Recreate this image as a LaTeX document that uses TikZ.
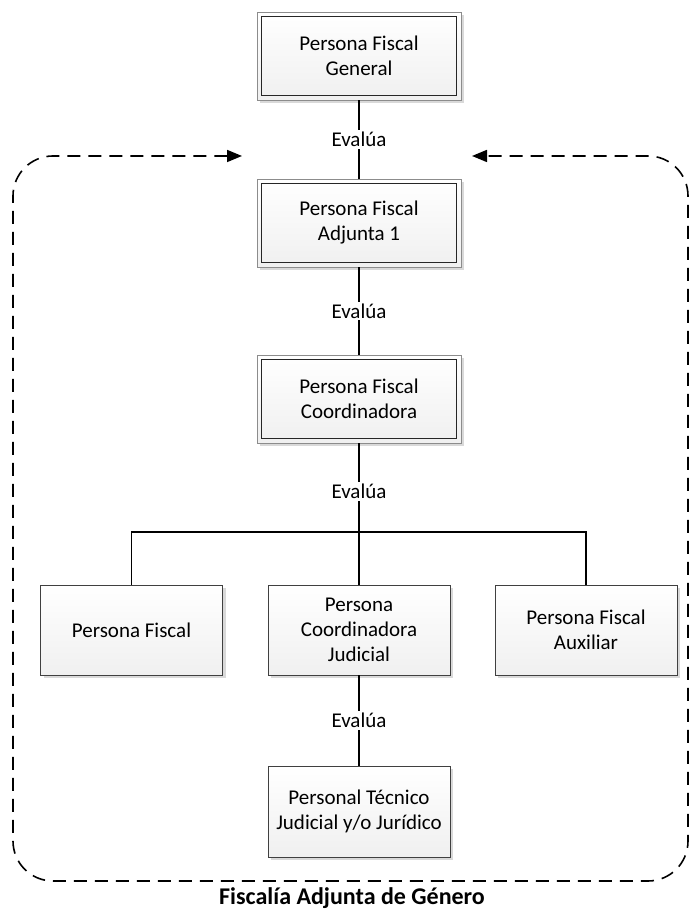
\documentclass[tikz,border=0pt]{standalone}
\usepackage{fontspec}
\setmainfont{Carlito}
\usetikzlibrary{arrows.meta,shadows}

\begin{document}
\begin{tikzpicture}[x=1pt,y=1pt,font=\fontsize{21}{25}\selectfont]
\tikzstyle conn=[line width=1.3pt,black]
\tikzstyle cargo=[draw=black!75,line width=0.9pt,top color=white,bottom color=black!6,
  drop shadow={shadow xshift=3pt,shadow yshift=-3pt,fill=black!15,opacity=1},
  minimum width=182pt,minimum height=90pt,inner sep=2pt,align=center]
\tikzstyle jefe=[cargo,draw=black!45,minimum width=204pt,minimum height=88pt]
\tikzstyle evalua=[fill=white,inner sep=2pt]
\tikzstyle marco=[line width=1.6pt,dash pattern=on 13pt off 8pt,rounded corners=40pt]
 \useasboundingbox (0,0) rectangle (691,909);
 % cadena principal
 \node[jefe] (pfg) at (359,853) {Persona Fiscal\\General};
 \node[jefe] (pfa) at (359,686) {Persona Fiscal\\Adjunta 1};
 \node[jefe] (pfc) at (359,510) {Persona Fiscal\\Coordinadora};
 \foreach \n in {pfg,pfa,pfc}
  \draw[black!85,line width=0.9pt] ([shift={(5,-5)}]\n.north west) rectangle ([shift={(-5,5)}]\n.south east);
 % fila inferior
 \node[cargo] (pf)  at (131.5,279) {Persona Fiscal};
 \node[cargo] (pcj) at (359,279)   {Persona\\Coordinadora\\Judicial};
 \node[cargo] (pfx) at (586,279)   {Persona Fiscal\\Auxiliar};
 \node[cargo,minimum height=91pt] (ptj) at (359,97.5) {Personal Técnico\\Judicial y/o Jurídico};
 \coordinate (bus) at (359,377);
 % conexiones
 \draw[conn] (pfg) -- node[evalua] (e1) {Evalúa} (pfa);
 \draw[conn] (pfa) -- node[evalua] (e2) {Evalúa} (pfc);
 \draw[conn] (pfc) -- node[evalua,pos=0.54] (e3) {Evalúa} (bus);
 \draw[conn] (pf.north) |- (bus) -| (pfx.north);
 \draw[conn] (bus) -- (pcj.north);
 \draw[conn] (pcj) -- node[evalua] (e4) {Evalúa} (ptj);
 % marco discontinuo
 \coordinate (fizq) at (242,753);
 \coordinate (fder) at (472,753);
 \draw[marco,{Triangle[length=15pt,width=12pt]}-{Triangle[length=15pt,width=12pt]}]
  (fizq) -- (13,753) -- (13,28) -- (688,28) -- (688,753) -- (fder);
 \node[font=\fontsize{24}{28}\selectfont\bfseries,anchor=base,inner sep=0pt] (titulo) at (352,4.5) {Fiscalía Adjunta de Género};
\end{tikzpicture}
\end{document}
